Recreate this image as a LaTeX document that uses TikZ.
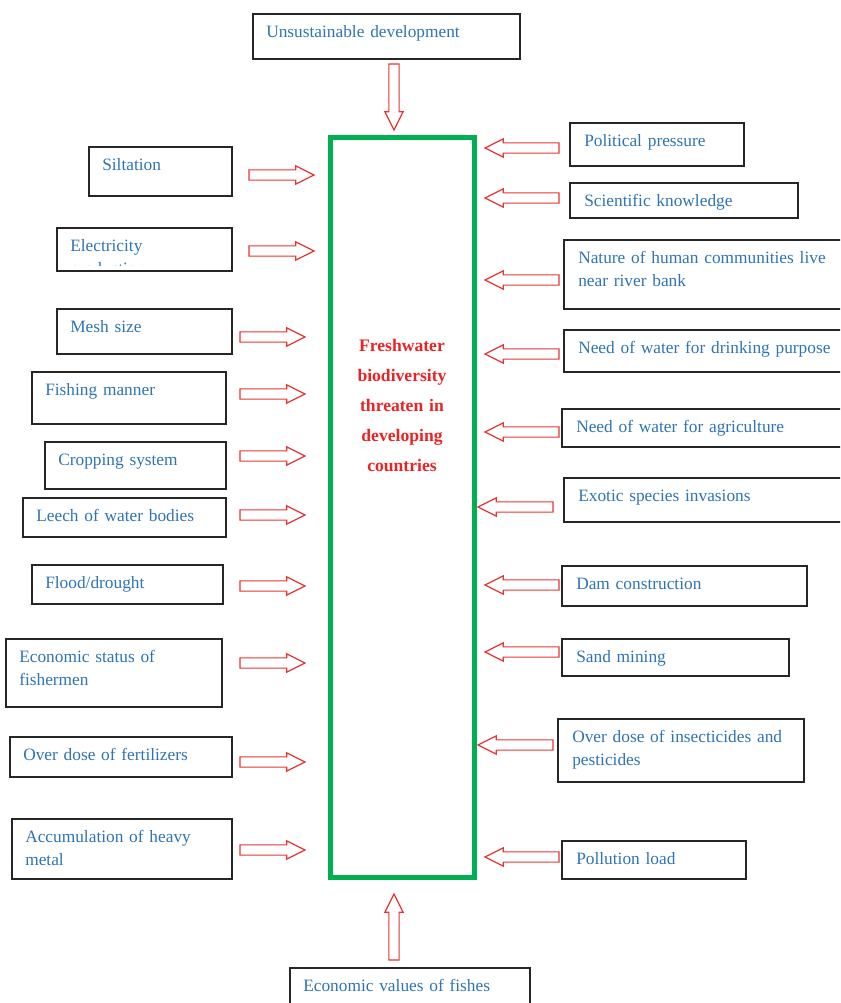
\documentclass[tikz,border=0pt]{standalone}
\usepackage{fontspec}
\setmainfont{Liberation Serif}
\usepackage{tikz}
\usetikzlibrary{shapes.arrows}
\newcommand{\pxu}{0.75pt}
\definecolor{factorblue}{RGB}{46,116,181}
\definecolor{arrowred}{RGB}{232,52,52}
\definecolor{threatred}{RGB}{235,35,35}
\definecolor{threatgreen}{RGB}{0,176,80}
\tikzset{
  factor/.style={draw=black!85,line width=1.1pt,anchor=north west,inner sep=0pt,outer sep=0pt},
  factortext/.style={anchor=base west,inner sep=0pt,text=factorblue,text width=8cm,
    font=\fontsize{13}{17.25}\selectfont},
  rarrow/.style={single arrow,draw=arrowred,line width=0.9pt,fill=white,inner xsep=0pt,inner ysep=3.4pt,
    outer sep=0pt,single arrow head extend=3pt,single arrow tip angle=53,anchor=tip,minimum height=65*\pxu},
  larrow/.style={rarrow,shape border rotate=180,minimum height=74*\pxu},
  varrow/.style={rarrow,inner xsep=3.4pt,inner ysep=0pt,minimum height=66*\pxu},
  threat/.style={draw=threatgreen,line width=3.75pt,anchor=north west,inner sep=0pt,outer sep=0pt},
  threattext/.style={anchor=base,inner sep=0pt,text=threatred,text width=100pt,
    font=\fontsize{13.2}{22.5}\selectfont\bfseries}
}

\begin{document}
\begin{tikzpicture}[x=0.75pt,y=-0.75pt]
    \useasboundingbox (0,0) rectangle (840,1003);
    \clip (0,0) rectangle (840,1003);

    % centre box
    \node[threat,minimum width=144*\pxu,minimum height=740*\pxu] (threat) at (330.5,137.5) {};
    \node[threattext] (threat-text) at (402,351) {\centering Freshwater\\biodiversity\\threaten in\\developing\\countries\par};

    % top and bottom
    \node[factor,minimum width=267*\pxu,minimum height=45*\pxu] (undev) at (253,14) {};
    \node[factortext] (undev-text) at ([shift={(13,23)}]undev.north west) {Unsustainable development};
    \node[varrow,shape border rotate=270] (undev-arrow) at (394,130) {};
    \node[factor,minimum width=240*\pxu,minimum height=45*\pxu] (values) at (290,968) {};
    \node[factortext] (values-text) at ([shift={(13,23)}]values.north west) {Economic values of fishes};
    \node[varrow,shape border rotate=90] (values-arrow) at (394,894) {};

    % left side
    \node[factor,minimum width=143*\pxu,minimum height=49*\pxu] (silt) at (89,147) {};
    \node[factortext] (silt-text) at ([shift={(13,23)}]silt.north west) {Siltation};
    \node[rarrow] (silt-arrow) at (314,175) {};

    \node[factor,minimum width=175*\pxu,minimum height=43*\pxu] (elec) at (57,228) {};
    \begin{scope}
      \clip (57,228) rectangle (232,265);
      \node[factortext] (elec-text) at ([shift={(13,23)}]elec.north west) {Electricity\\production};
    \end{scope}
    \node[rarrow] (elec-arrow) at (314,251) {};

    \node[factor,minimum width=175*\pxu,minimum height=45*\pxu] (mesh) at (57,309) {};
    \node[factortext] (mesh-text) at ([shift={(13,23)}]mesh.north west) {Mesh size};
    \node[rarrow] (mesh-arrow) at (305,337) {};

    \node[factor,minimum width=194*\pxu,minimum height=52*\pxu] (fish) at (32,372) {};
    \node[factortext] (fish-text) at ([shift={(13,23)}]fish.north west) {Fishing manner};
    \node[rarrow] (fish-arrow) at (305,394) {};

    \node[factor,minimum width=181*\pxu,minimum height=47*\pxu] (crop) at (45,442) {};
    \node[factortext] (crop-text) at ([shift={(13,23)}]crop.north west) {Cropping system};
    \node[rarrow] (crop-arrow) at (305,456) {};

    \node[factor,minimum width=203*\pxu,minimum height=39*\pxu] (leech) at (23,498) {};
    \node[factortext] (leech-text) at ([shift={(13,23)}]leech.north west) {Leech of water bodies};
    \node[rarrow] (leech-arrow) at (305,515) {};

    \node[factor,minimum width=191*\pxu,minimum height=39*\pxu] (flood) at (32,565) {};
    \node[factortext] (flood-text) at ([shift={(13,23)}]flood.north west) {Flood/drought};
    \node[rarrow] (flood-arrow) at (305,586) {};

    \node[factor,minimum width=216*\pxu,minimum height=68*\pxu] (econ) at (6,639) {};
    \node[factortext] (econ-text) at ([shift={(13,23)}]econ.north west) {Economic status of\\fishermen};
    \node[rarrow] (econ-arrow) at (305,663) {};

    \node[factor,minimum width=222*\pxu,minimum height=40*\pxu] (fert) at (10,737) {};
    \node[factortext] (fert-text) at ([shift={(13,23)}]fert.north west) {Over dose of fertilizers};
    \node[rarrow] (fert-arrow) at (305,762) {};

    \node[factor,minimum width=220*\pxu,minimum height=60*\pxu] (metal) at (12,819) {};
    \node[factortext] (metal-text) at ([shift={(13,23)}]metal.north west) {Accumulation of heavy\\metal};
    \node[rarrow] (metal-arrow) at (305,850) {};

    % right side
    \node[factor,minimum width=174*\pxu,minimum height=43*\pxu] (polit) at (570,123) {};
    \node[factortext] (polit-text) at ([shift={(14,23)}]polit.north west) {Political pressure};
    \node[larrow] (polit-arrow) at (485,148) {};

    \node[factor,minimum width=228*\pxu,minimum height=35*\pxu] (sci) at (570,183) {};
    \node[factortext] (sci-text) at ([shift={(14,23)}]sci.north west) {Scientific knowledge};
    \node[larrow] (sci-arrow) at (485,198) {};

    \node[factor,minimum width=290*\pxu,minimum height=69*\pxu] (nature) at (564,240) {};
    \node[factortext] (nature-text) at ([shift={(14,23)}]nature.north west) {Nature of human communities live\\near river bank};
    \node[larrow] (nature-arrow) at (485,280) {};

    \node[factor,minimum width=290*\pxu,minimum height=42*\pxu] (drink) at (564,330) {};
    \node[factortext] (drink-text) at ([shift={(14,23)}]drink.north west) {Need of water for drinking purpose};
    \node[larrow] (drink-arrow) at (485,354) {};

    \node[factor,minimum width=290*\pxu,minimum height=38*\pxu] (agri) at (562,409) {};
    \node[factortext] (agri-text) at ([shift={(14,23)}]agri.north west) {Need of water for agriculture};
    \node[larrow] (agri-arrow) at (485,432) {};

    \node[factor,minimum width=290*\pxu,minimum height=44*\pxu] (exotic) at (564,478) {};
    \node[factortext] (exotic-text) at ([shift={(14,23)}]exotic.north west) {Exotic species invasions};
    \node[larrow,minimum height=75*\pxu] (exotic-arrow) at (478,507) {};

    \node[factor,minimum width=245*\pxu,minimum height=40*\pxu] (dam) at (562,566) {};
    \node[factortext] (dam-text) at ([shift={(14,23)}]dam.north west) {Dam construction};
    \node[larrow] (dam-arrow) at (485,585) {};

    \node[factor,minimum width=227*\pxu,minimum height=37*\pxu] (sand) at (562,639) {};
    \node[factortext] (sand-text) at ([shift={(14,23)}]sand.north west) {Sand mining};
    \node[larrow] (sand-arrow) at (485,652) {};

    \node[factor,minimum width=246*\pxu,minimum height=63*\pxu] (insect) at (558,719) {};
    \node[factortext] (insect-text) at ([shift={(14,23)}]insect.north west) {Over dose of insecticides and\\pesticides};
    \node[larrow,minimum height=75*\pxu] (insect-arrow) at (478,745) {};

    \node[factor,minimum width=184*\pxu,minimum height=38*\pxu] (pollu) at (562,841) {};
    \node[factortext] (pollu-text) at ([shift={(14,23)}]pollu.north west) {Pollution load};
    \node[larrow] (pollu-arrow) at (485,857) {};
  \end{tikzpicture}
\end{document}
